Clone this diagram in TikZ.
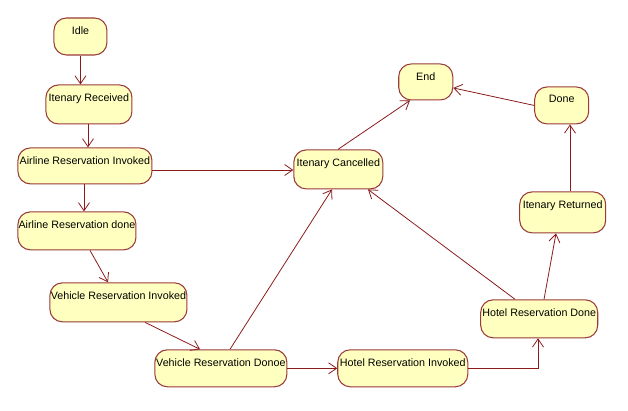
\documentclass[tikz,border=0pt]{standalone}
\usepackage{fontspec}
\setmainfont{Liberation Sans}
\usetikzlibrary{arrows.meta}
\definecolor{bd}{HTML}{9A3A3A}
\definecolor{fl}{HTML}{FFFFC0}
\definecolor{ln}{HTML}{8B1A1A}
\tikzset{st/.style={draw=bd,fill=fl,rounded corners=2.5mm,inner sep=0pt,line width=0.6pt,font=\fontsize{6.1}{7}\selectfont},
ar/.style={draw=ln,line width=0.45pt,-{Straight Barb[length=1.6mm,width=2.2mm]}}}
\newcommand\stt[6]{%
\pgfmathsetlengthmacro\bw{(#4-#2)*0.02cm}%
\pgfmathsetlengthmacro\bh{(#5-#3)*0.02cm}%
\pgfmathsetlengthmacro\bhi{(#5-#3)*0.02cm-1mm}%
\node[st,minimum width=\bw,minimum height=\bh] (#1) at ({(#2+#4)*0.01},{-(#3+#5)*0.01}) {\parbox[c][\bhi][t]{\bw}{\centering\vspace*{1.2mm}\mbox{#6}}};}
\begin{document}
\begin{tikzpicture}
\useasboundingbox (0,0) rectangle (12.56,-8.2);
\stt{idle}{54}{18}{107}{55}{Idle}
\stt{ir}{46}{85}{132}{124}{Itenary Received}
\stt{ari}{18}{148}{152}{184}{Airline Reservation Invoked}
\stt{ard}{18}{212}{136}{250}{Airline Reservation done}
\stt{vri}{50}{283}{187}{322}{Vehicle Reservation Invoked}
\stt{vrd}{155}{350}{287}{387}{Vehicle Reservation Donoe}
\stt{hri}{338}{350}{468}{387}{Hotel Reservation Invoked}
\stt{hrd}{481}{300}{598}{338}{Hotel Reservation Done}
\stt{itr}{520}{192}{606}{233}{Itenary Returned}
\stt{done}{535}{87}{589}{124}{Done}
\stt{end}{399}{64}{453}{100}{End}
\stt{ic}{294}{150}{383}{189}{Itenary Cancelled}
\draw[ar] (idle.south) -- (idle.south|-ir.north);
\draw[ar] (ir.south-|1.76,0) -- (ari.north-|1.76,0);
\draw[ar] (ari.south-|1.68,0) -- (ard.north-|1.68,0);
\draw[ar] (ard.south-|1.80,0) -- (vri.north-|2.16,0);
\draw[ar] (vri.south-|2.90,0) -- (vrd.north-|4.00,0);
\draw[ar] (vrd.east) -- (hri.west|-vrd.east);
\draw[ar] (hri.east) -| (hrd.south-|10.76,0);
\draw[ar] (hrd.north-|10.88,0) -- (itr.south-|11.12,0);
\draw[ar] (itr.north-|11.40,0) -- (done.south-|11.40,0);
\draw[ar] (done.west) -- ([yshift=-0.12cm]end.east);
\draw[ar] (ic.north-|6.76,0) -- (end.south-|8.20,0);
\draw[ar] (ari.east|-0,-3.40) -- (ic.west|-0,-3.40);
\draw[ar] (vrd.north-|4.60,0) -- (ic.south-|6.64,0);
\draw[ar] (hrd.north-|10.30,0) -- (ic.south-|7.36,0);
\end{tikzpicture}
\end{document}
